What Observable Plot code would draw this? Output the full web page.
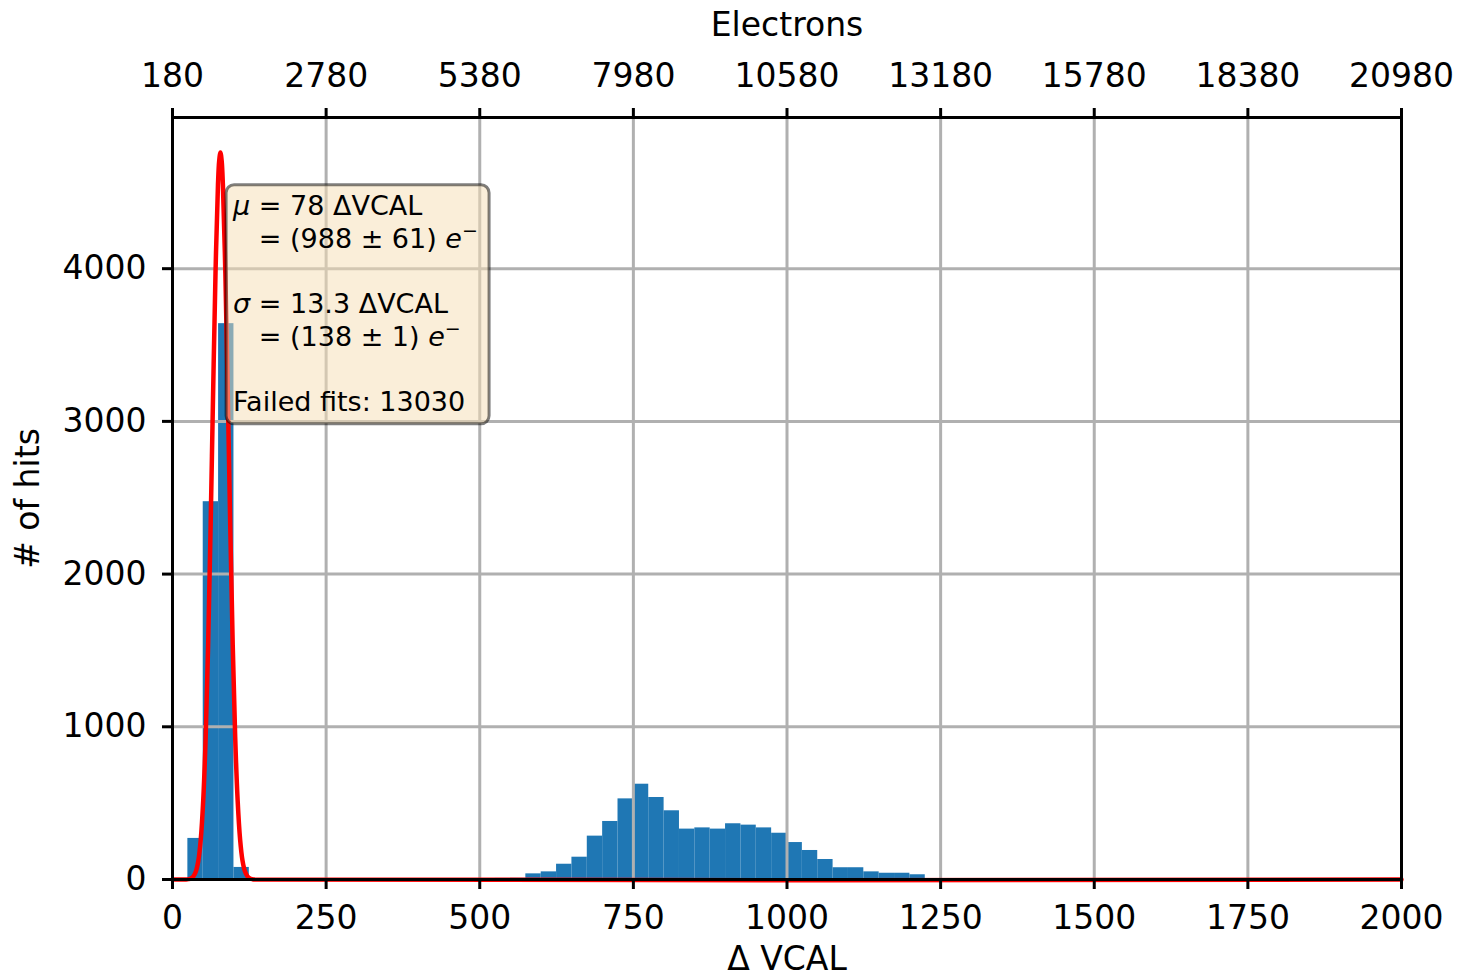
<!DOCTYPE html>
<html><head><meta charset="utf-8">
<script src="https://cdn.jsdelivr.net/npm/d3@7"></script>
<script src="https://cdn.jsdelivr.net/npm/@observablehq/plot@0.6"></script>
<style>body{margin:0;background:#fff}#chart{width:1459px;height:980px}</style>
</head><body><div id="chart"></div>
<script>
// ---- data ----
const binWidth = 25;
const binLeft = [25, 50, 75, 100,
  500, 525, 550, 575, 600, 625, 650, 675, 700, 725, 750, 775, 800, 825, 850, 875,
  900, 925, 950, 975, 1000, 1025, 1050, 1075, 1100, 1125, 1150, 1175, 1200];
const binCounts = [269, 2474, 3640, 79,
  6, 7, 8, 37, 50, 100, 146, 284, 380, 528, 624, 537, 450, 330, 338, 330,
  365, 356, 338, 303, 242, 190, 131, 77, 77, 50, 41, 41, 31];
const fitX = [0, 22, 26, 30, 34, 38, 42, 46, 50, 54, 58, 62, 66, 70, 74, 76, 78, 80, 82, 86, 90, 94, 98, 102, 106, 110, 114, 118, 122, 126, 130, 134, 2000];
const fitY = [0, 0.4, 2.3, 7, 20, 52, 122, 263, 519, 934, 1537, 2308, 3168, 3972, 4550, 4707, 4760, 4707, 4550, 3972, 3168, 2308, 1537, 934, 519, 263, 122, 52, 20, 7, 2.3, 0.4, 0];
const xTicks = [0, 250, 500, 750, 1000, 1250, 1500, 1750, 2000];
const electronLabels = ["180", "2780", "5380", "7980", "10580", "13180", "15780", "18380", "20980"];
const yTicks = [0, 1000, 2000, 3000, 4000];
const xLabel = "Δ VCAL";
const topLabel = "Electrons";
const yLabel = "# of hits";
const boxLines = [
  [{t: "μ", i: true}, {t: " = 78 ΔVCAL"}],
  [{t: "   = (988 ± 61) "}, {t: "e", i: true}, {t: "−", sup: true}],
  [],
  [{t: "σ", i: true}, {t: " = 13.3 ΔVCAL"}],
  [{t: "   = (138 ± 1) "}, {t: "e", i: true}, {t: "−", sup: true}],
  [],
  [{t: "Failed fits: 13030"}]
];

const bins = binLeft.map((x, i) => ({x1: x, x2: x + binWidth, count: binCounts[i]}));
const fit = fitX.map((x, i) => ({x, y: fitY[i]}));

const plot = Plot.plot({
  width: 1459, height: 980,
  marginLeft: 172, marginRight: 58, marginTop: 117, marginBottom: 101,
  x: {domain: [0, 2000]},
  y: {domain: [0, 4990]},
  style: {fontFamily: "DejaVu Sans", fontSize: "33px", background: "#fff", color: "#000"},
  marks: [
    Plot.rectY(bins, {x1: "x1", x2: "x2", y: "count", fill: "#1f77b4"}),
    Plot.gridX(xTicks, {stroke: "#b0b0b0", strokeOpacity: 1, strokeWidth: 3}),
    Plot.gridY(yTicks, {stroke: "#b0b0b0", strokeOpacity: 1, strokeWidth: 3}),
    Plot.line(fit, {x: "x", y: "y", stroke: "#ff0000", strokeWidth: 4.5, curve: "catmull-rom"}),
    Plot.frame({stroke: "#000", strokeWidth: 3}),
    Plot.axisX(xTicks, {anchor: "bottom", tickSize: 10, tickPadding: 16, strokeWidth: 3, label: null, fontSize: 33, tickFormat: d => String(d)}),
    Plot.axisX(xTicks, {anchor: "top", tickSize: 10, tickPadding: 21, strokeWidth: 3, label: null, fontSize: 33, tickFormat: d => electronLabels[xTicks.indexOf(d)]}),
    Plot.axisY(yTicks, {anchor: "left", tickSize: 10, tickPadding: 16, strokeWidth: 3, label: null, fontSize: 33, tickFormat: d => String(d)}),
    Plot.text([xLabel], {frameAnchor: "bottom", dy: 80, lineAnchor: "middle", textAnchor: "middle", fontSize: 33, text: d => d}),
    Plot.text([topLabel], {frameAnchor: "top", dy: -92, lineAnchor: "middle", textAnchor: "middle", fontSize: 33, text: d => d}),
    Plot.text([yLabel], {frameAnchor: "left", dx: -144, rotate: -90, lineAnchor: "middle", textAnchor: "middle", fontSize: 33, text: d => d})
  ]
});
document.getElementById("chart").appendChild(plot);

// annotation box (axes-relative position, like a matplotlib text bbox)
const xs = plot.scale("x"), ys = plot.scale("y");
const [fx0, fx1] = xs.range, [fyB, fyT] = ys.range;
const W = fx1 - fx0, H = fyB - fyT;
const bx = fx0 + 0.044 * W, by = fyT + 0.089 * H, bw = 263, bh = 239;
const g = d3.select(plot).append("g").attr("text-anchor", "start");
g.append("rect").attr("x", bx).attr("y", by).attr("width", bw).attr("height", bh)
  .attr("rx", 8).attr("fill", "#f5deb3").attr("fill-opacity", 0.5)
  .attr("stroke", "#000").attr("stroke-opacity", 0.5).attr("stroke-width", 3);
const fs = 27, lh = 32.7;
boxLines.forEach((segs, li) => {
  if (!segs.length) return;
  const t = g.append("text").attr("x", bx + 7).attr("y", by + 30 + li * lh)
    .attr("text-anchor", "start")
    .attr("font-family", "DejaVu Sans").attr("font-size", fs).attr("fill", "#000")
    .attr("xml:space", "preserve").style("white-space", "pre");
  segs.forEach(s => {
    const sp = t.append("tspan").text(s.t);
    if (s.i) sp.attr("font-style", "italic");
    if (s.sup) sp.attr("font-size", 19).attr("dy", -11);
  });
});
</script></body></html>
